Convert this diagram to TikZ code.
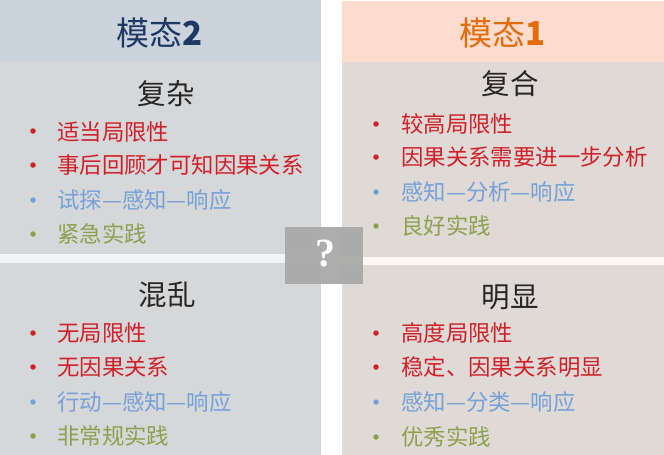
\documentclass[tikz,border=0pt]{standalone}
\usepackage{fontspec}
\newfontfamily\cjk{Noto Sans CJK SC}
\newfontfamily\qfont{Liberation Serif}
\definecolor{lhead}{HTML}{CBD4DC}
\definecolor{lpanel}{HTML}{D6D7D9}
\definecolor{lstrip}{HTML}{F2F4F6}
\definecolor{rhead}{HTML}{FBDCCF}
\definecolor{rpanel}{HTML}{DFDAD6}
\definecolor{rstrip}{HTML}{FDF8F4}
\definecolor{tblue}{HTML}{1F3864}
\definecolor{torange}{HTML}{E46C0A}
\definecolor{headc}{HTML}{262626}
\definecolor{cred}{HTML}{D0202A}
\definecolor{cblue}{HTML}{77A0D8}
\definecolor{cgreen}{HTML}{8DA050}
\definecolor{qbox}{HTML}{A9A9A9}
\tikzset{
  item/.style={anchor=west, inner sep=0pt, font=\cjk\fontsize{22.4}{24}\selectfont},
  head/.style={inner sep=0pt, text=headc, font=\cjk\fontsize{28.5}{30}\selectfont},
  title/.style={inner sep=0pt, font=\cjk\fontsize{33}{34}\selectfont},
  dot/.style={circle, inner sep=0pt, minimum size=5.5pt},
}
\begin{document}
\begin{tikzpicture}[x=1pt,y=-1pt]
\useasboundingbox (0,0) rectangle (664,455);
% backgrounds
\fill[lhead] (0,0) rectangle (321,62);
\fill[lpanel] (0,62) rectangle (321,254);
\fill[lstrip] (0,254) rectangle (321,263);
\fill[lpanel] (0,263) rectangle (321,455);
\fill[rhead] (342,1) rectangle (664,62);
\fill[rpanel] (342,62) rectangle (664,257);
\fill[rstrip] (342,257) rectangle (664,265);
\fill[rpanel] (342,265) rectangle (664,455);
% titles
\node[title, text=tblue] (t2) at (160,33) {模态\textbf{2}};
\node[title, text=torange] (t1) at (503,33) {模态\textbf{1}};
% headings
\node[head] (h1) at (166,94) {复杂};
\node[head] (h2) at (510,84) {复合};
\node[head] (h3) at (167,295) {混乱};
\node[head] (h4) at (510,297) {明显};
% left top
\node[dot, fill=cred] (d11) at (33,131) {};
\node[item, text=cred] (i11) at (57,132) {适当局限性};
\node[dot, fill=cred] (d12) at (33,165) {};
\node[item, text=cred] (i12) at (57,165) {事后回顾才可知因果关系};
\node[dot, fill=cblue] (d13) at (33,200) {};
\node[item, text=cblue] (i13) at (57,200) {试探—感知—响应};
\node[dot, fill=cgreen] (d14) at (33,234) {};
\node[item, text=cgreen] (i14) at (57,234) {紧急实践};
% right top
\node[dot, fill=cred] (d21) at (376,124) {};
\node[item, text=cred] (i21) at (401,124) {较高局限性};
\node[dot, fill=cred] (d22) at (376,157) {};
\node[item, text=cred] (i22) at (401,157) {因果关系需要进一步分析};
\node[dot, fill=cblue] (d23) at (376,192) {};
\node[item, text=cblue] (i23) at (401,192) {感知—分析—响应};
\node[dot, fill=cgreen] (d24) at (376,226) {};
\node[item, text=cgreen] (i24) at (401,226) {良好实践};
% left bottom
\node[dot, fill=cred] (d31) at (33,333) {};
\node[item, text=cred] (i31) at (57,333) {无局限性};
\node[dot, fill=cred] (d32) at (33,367) {};
\node[item, text=cred] (i32) at (57,367) {无因果关系};
\node[dot, fill=cblue] (d33) at (33,402) {};
\node[item, text=cblue] (i33) at (57,402) {行动—感知—响应};
\node[dot, fill=cgreen] (d34) at (33,436) {};
\node[item, text=cgreen] (i34) at (57,436) {非常规实践};
% right bottom
\node[dot, fill=cred] (d41) at (376,333) {};
\node[item, text=cred] (i41) at (401,333) {高度局限性};
\node[dot, fill=cred] (d42) at (376,367) {};
\node[item, text=cred] (i42) at (401,367) {稳定、因果关系明显};
\node[dot, fill=cblue] (d43) at (376,402) {};
\node[item, text=cblue] (i43) at (401,402) {感知—分类—响应};
\node[dot, fill=cgreen] (d44) at (376,437) {};
\node[item, text=cgreen] (i44) at (401,437) {优秀实践};
% question box
\fill[qbox, opacity=0.95] (285,227) rectangle (363,284);
\node[text=white, inner sep=0pt, font=\qfont\bfseries\fontsize{40}{40}\selectfont] (q) at (325,254) {?};
\end{tikzpicture}
\end{document}
